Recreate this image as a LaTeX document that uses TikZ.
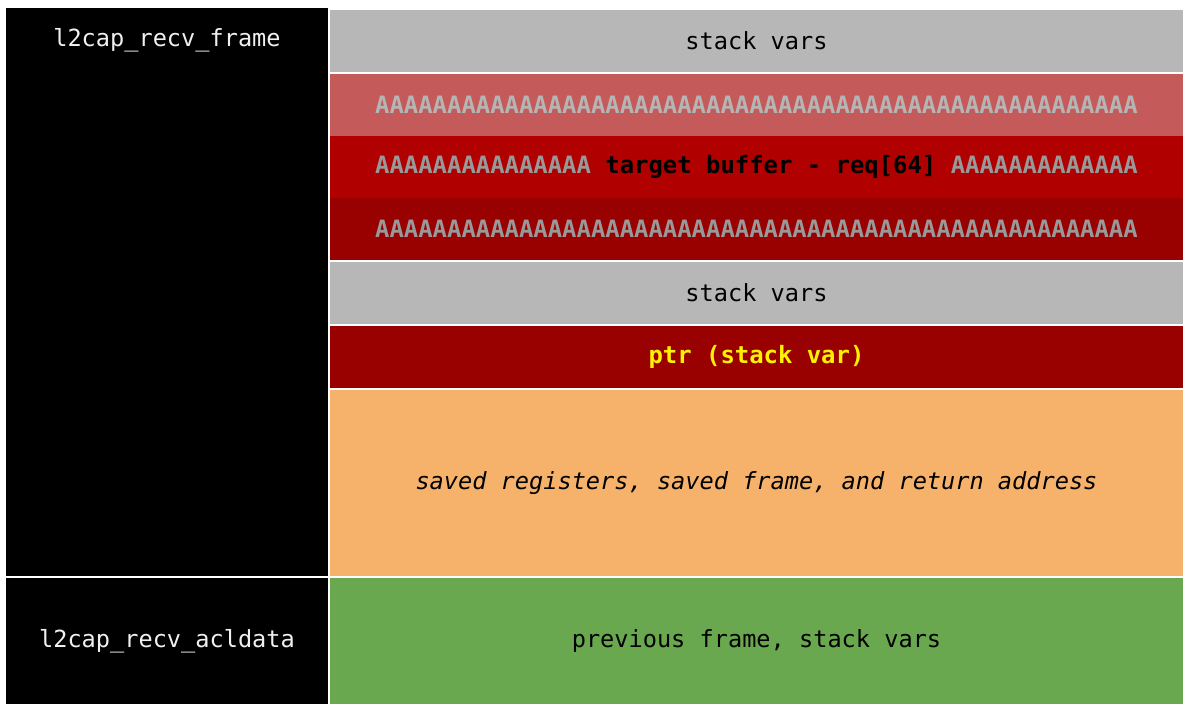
\documentclass[tikz,border=0pt]{standalone}
\usepackage{fontspec}
\setmainfont{DejaVu Sans Mono}
\definecolor{cgray}{HTML}{B7B7B7}
\definecolor{clred}{HTML}{C55A5A}
\definecolor{cred}{HTML}{B00000}
\definecolor{cdred}{HTML}{990000}
\definecolor{corange}{HTML}{F6B26B}
\definecolor{cgreen}{HTML}{6AA84F}
\definecolor{agray}{HTML}{999999}
\definecolor{algray}{HTML}{B5B5B5}
\definecolor{ctext}{HTML}{F0F0F0}
\begin{document}
\begin{tikzpicture}[x=1pt,y=-1pt,
  cell/.style={anchor=north west,inner sep=0pt,outer sep=0pt,draw=none,
    minimum width=853pt,font=\fontsize{23.6}{28}\selectfont},
  boldcell/.style={cell,font=\fontsize{23.9}{28}\selectfont\bfseries},
  side/.style={anchor=north west,inner sep=0pt,outer sep=0pt,draw=none,fill=black,
    minimum width=322pt},
  lbl/.style={text=ctext,font=\fontsize{23.6}{28}\selectfont,inner sep=0pt}]
\useasboundingbox[fill=white] (0,0) rectangle (1183,704);
% left column
\node[side,minimum height=567.5pt] (fr) at (6,8) {};
\node[side,minimum height=126pt] (acl) at (6,578) {};
\node[lbl] (frl) at (167,40) {l2cap\_recv\_frame};
\node[lbl] (acll) at (167,641) {l2cap\_recv\_acldata};
% right column
\node[cell,fill=cgray,minimum height=62pt] (s1) at (330,10) {stack vars};
\node[boldcell,fill=clred,minimum height=62pt,text=algray] (a1) at (330,74)
  {AAAAAAAAAAAAAAAAAAAAAAAAAAAAAAAAAAAAAAAAAAAAAAAAAAAAA};
\node[boldcell,fill=cred,minimum height=61.5pt] (tb) at (330,136)
  {\textcolor{agray}{AAAAAAAAAAAAAAA} target buffer - req[64] \textcolor{agray}{AAAAAAAAAAAAA}};
\node[boldcell,fill=cdred,minimum height=62.5pt,text=agray] (a3) at (330,197.5)
  {AAAAAAAAAAAAAAAAAAAAAAAAAAAAAAAAAAAAAAAAAAAAAAAAAAAAA};
\node[cell,fill=cgray,minimum height=62pt] (s2) at (330,262) {stack vars};
\node[boldcell,fill=cdred,minimum height=62pt,text=yellow] (ptr) at (330,326) {ptr (stack var)};
\node[cell,fill=corange,minimum height=185.5pt,font=\fontsize{23.6}{28}\selectfont\itshape] (sv) at (330,390)
  {saved registers, saved frame, and return address};
\node[cell,fill=cgreen,minimum height=126pt] (pf) at (330,578) {previous frame, stack vars};
\end{tikzpicture}
\end{document}
